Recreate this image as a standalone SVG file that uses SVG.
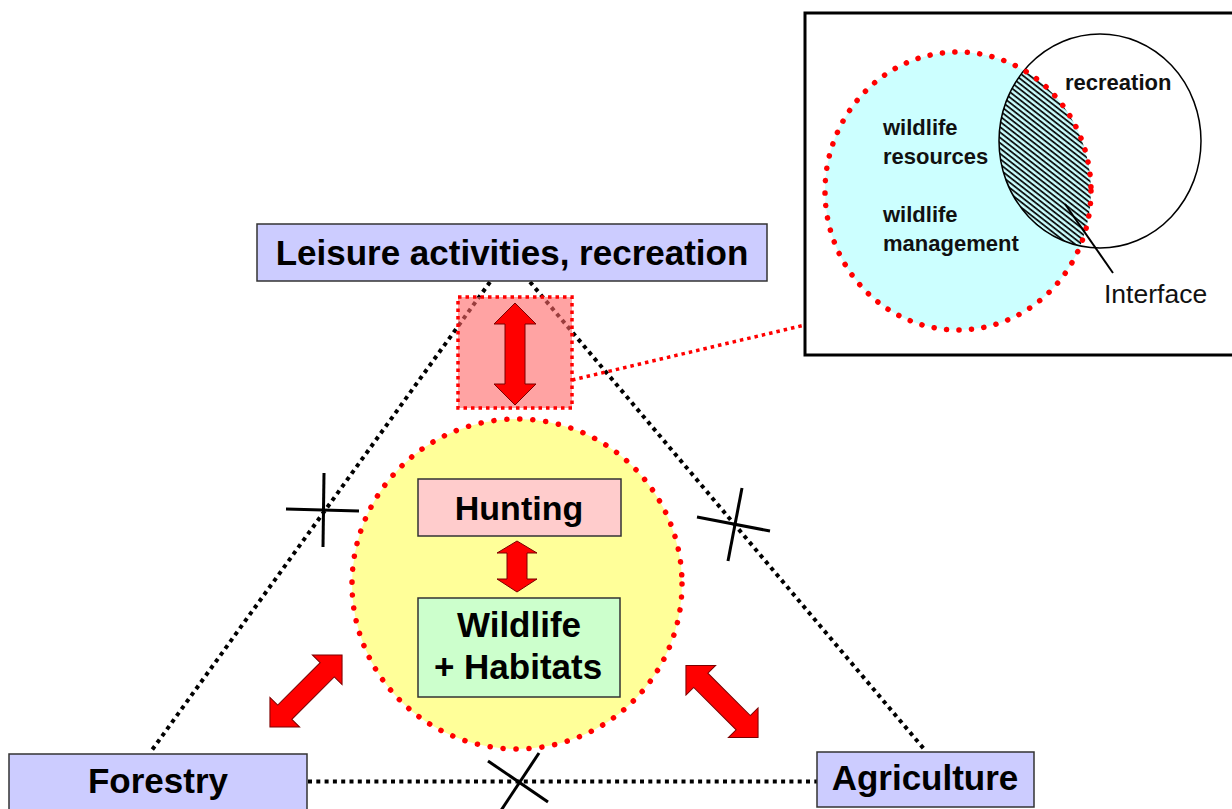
<svg xmlns="http://www.w3.org/2000/svg" width="1232" height="809" viewBox="0 0 1232 809">
<style>
  .box{stroke:#333;stroke-width:1.5}
  .t{font-family:"Liberation Sans",Arial,sans-serif;font-weight:bold;fill:#000;text-anchor:middle}
  .s{font-family:"Liberation Sans",Arial,sans-serif;font-weight:bold;fill:#111}
  .dot{fill:none;stroke:#000;stroke-width:4;stroke-dasharray:4 4.3}
  .cross{stroke:#000;stroke-width:3;fill:none}
  .reddot{fill:none;stroke:#ff0000;stroke-width:5.5;stroke-linecap:round;stroke-dasharray:0.1 12.9}
  .arr{fill:#ff0000;stroke:#7a0000;stroke-width:1}
</style>
<defs>
  <path id="arrow" d="M -51,0 L -30,-21 L -30,-10 L 30,-10 L 30,-21 L 51,0 L 30,21 L 30,10 L -30,10 L -30,21 Z"/>
  <pattern id="hatch" width="4.2" height="4.2" patternUnits="userSpaceOnUse" patternTransform="rotate(38)">
    <rect width="4.2" height="4.2" fill="#ccffff"/>
    <line x1="0" y1="1" x2="4.2" y2="1" stroke="#000" stroke-width="1.7"/>
  </pattern>
  <clipPath id="cyanClip"><ellipse cx="958" cy="191" rx="133" ry="139"/></clipPath>
</defs>
<rect width="1232" height="809" fill="#ffffff"/>

<g id="connectors">
  <line class="dot" x1="490" y1="282" x2="152" y2="750"/>
  <line class="dot" x1="530" y1="282" x2="924" y2="749"/>
  <line class="dot" x1="308" y1="781.5" x2="817" y2="781.5"/>
  <line x1="572" y1="380" x2="805" y2="325" stroke="#ff0000" stroke-width="3.5" stroke-dasharray="3.5 4"/>
  <g id="crosses">
    <line class="cross" x1="286" y1="509" x2="359" y2="511"/>
    <line class="cross" x1="324" y1="473" x2="323" y2="547"/>
    <line class="cross" x1="697" y1="517" x2="770" y2="531"/>
    <line class="cross" x1="742" y1="488" x2="728" y2="561"/>
    <line class="cross" x1="488" y1="761" x2="548" y2="802"/>
    <line class="cross" x1="539" y1="753" x2="500" y2="812"/>
  </g>
</g>

<g id="interface-highlight">
  <rect x="458" y="297" width="114" height="111" fill="#ff6666" fill-opacity="0.6" stroke="#ff0000" stroke-width="3.5" stroke-dasharray="3.5 4"/>
  <use href="#arrow" class="arr" transform="translate(515,354) rotate(90)"/>
</g>

<g id="leisure">
  <rect class="box" x="257" y="224" width="510" height="57" fill="#ccccff"/>
  <text class="t" x="512" y="265" font-size="35">Leisure activities, recreation</text>
</g>

<g id="core">
  <circle cx="517" cy="584" r="165" fill="#ffff99"/>
  <circle class="reddot" cx="517" cy="584" r="165"/>
</g>

<g id="hunting">
  <rect class="box" x="418" y="479" width="203" height="57" fill="#ffcccc"/>
  <text class="t" x="519" y="520" font-size="34">Hunting</text>
</g>

<g id="hunting-wildlife-arrow">
  <path class="arr" d="M 517,541 L 537,553 L 527,553 L 527,579 L 537,579 L 517,592 L 497,579 L 507,579 L 507,553 L 497,553 Z"/>
</g>

<g id="wildlife">
  <rect class="box" x="418" y="598" width="202" height="99" fill="#ccffcc"/>
  <text class="t" x="519" y="637" font-size="35">Wildlife</text>
  <text class="t" x="518" y="679" font-size="35">+ Habitats</text>
</g>

<g id="forestry-arrow">
  <use href="#arrow" class="arr" transform="translate(306,691) rotate(-45)"/>
</g>
<g id="agriculture-arrow">
  <use href="#arrow" class="arr" transform="translate(722,701.5) rotate(45)"/>
</g>

<g id="forestry">
  <rect class="box" x="9" y="754" width="298" height="62" fill="#ccccff"/>
  <text class="t" x="158" y="793" font-size="35">Forestry</text>
</g>

<g id="agriculture">
  <rect class="box" x="817" y="752" width="217" height="55" fill="#ccccff"/>
  <text class="t" x="925" y="790" font-size="35">Agriculture</text>
</g>

<g id="inset">
  <rect x="805" y="13" width="435" height="342" fill="#ffffff" stroke="#000" stroke-width="3"/>
  <ellipse cx="1100" cy="141" rx="101" ry="107" fill="#ffffff"/>
  <ellipse cx="958" cy="191" rx="133" ry="139" fill="#ccffff"/>
  <ellipse cx="1100" cy="141" rx="101" ry="107" fill="url(#hatch)" clip-path="url(#cyanClip)"/>
  <ellipse cx="1100" cy="141" rx="101" ry="107" fill="none" stroke="#000" stroke-width="1.5"/>
  <ellipse cx="958" cy="191" rx="133" ry="139" fill="none" stroke="#ff0000" stroke-width="5.5" stroke-linecap="round" stroke-dasharray="0.1 12.4"/>
  <line x1="1065" y1="204" x2="1113" y2="273" stroke="#000" stroke-width="2"/>
  <text class="s" x="1065" y="90" font-size="22">recreation</text>
  <text class="s" x="883" y="135" font-size="22">wildlife</text>
  <text class="s" x="883" y="164" font-size="22">resources</text>
  <text class="s" x="883" y="222" font-size="22">wildlife</text>
  <text class="s" x="883" y="251" font-size="22">management</text>
  <text x="1104" y="303" font-size="26.5" font-family="'Liberation Sans',Arial,sans-serif" fill="#111">Interface</text>
</g>
</svg>
